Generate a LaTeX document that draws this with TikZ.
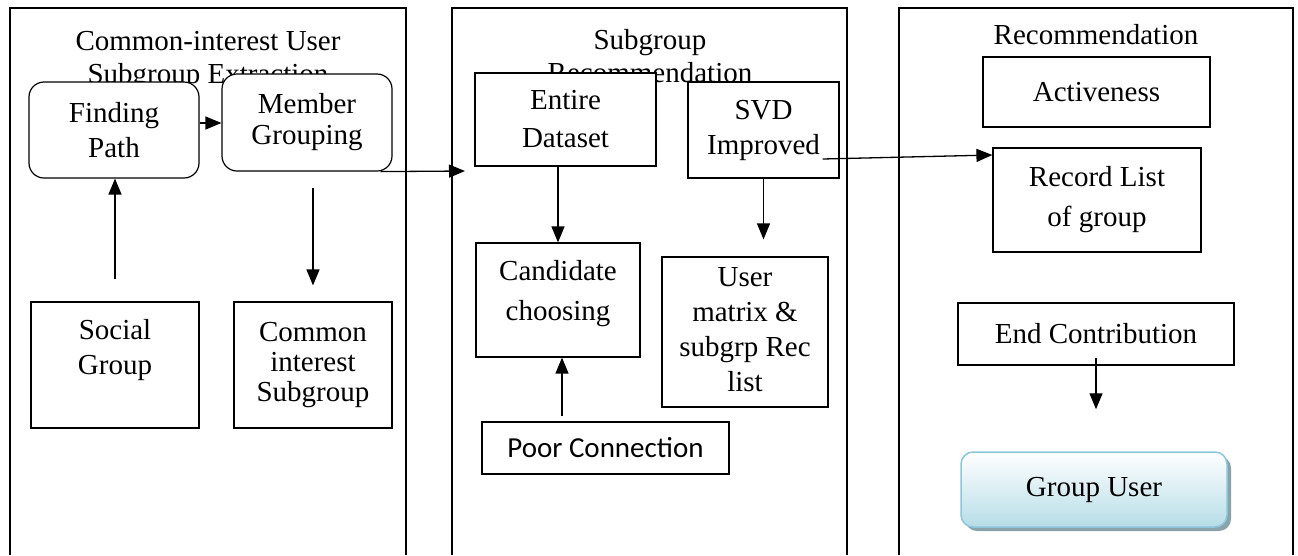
\documentclass[tikz,border=0pt]{standalone}
\usepackage{fontspec}
\setmainfont{Liberation Serif}
\newfontfamily\calfont{Carlito}
\usetikzlibrary{arrows.meta,shadows}

\definecolor{gublue}{RGB}{140,198,218}
\definecolor{gufill}{RGB}{182,221,231}
\definecolor{gushadow}{RGB}{138,162,168}

\tikzset{
  sq/.style={draw,fill=white,line width=1.2pt,align=center,inner sep=0pt,
    font=\fontsize{29}{35}\selectfont},
  rsq/.style={sq,rounded corners=15pt},
  ttl/.style={align=center,inner sep=0pt,font=\fontsize{29}{33}\selectfont},
  arr/.style={-{Triangle[length=16pt,width=13pt]},line width=1.3pt},
  panel/.style={line width=1.3pt}
}

\begin{document}
\begin{tikzpicture}[x=1pt,y=-1pt]
\useasboundingbox (0,0) rectangle (1298,555);

% panels, open at the bottom
\draw[panel] (10,555) |- (406,8) -- (406,555);
\draw[panel] (452,555) |- (847,8) -- (847,555);
\draw[panel] (899,555) |- (1293,8) -- (1293,555);

\node[ttl] (t1) at (208,61) {Common-interest User\\Subgroup Extraction};
\node[ttl] (t2) at (650,56) {Subgroup\\Recommendation};
\node[ttl] (t3) at (1096,35) {Recommendation};

% first panel
\node[rsq,minimum width=170pt,minimum height=96pt] (find) at (114,130) {Finding\\Path};
\node[rsq,minimum width=170pt,minimum height=97pt,font=\fontsize{29}{31}\selectfont] (member) at (307,122.5) {Member\\Grouping};
\node[sq,minimum width=168pt,minimum height=126pt,text depth=37pt] (social) at (115,365) {Social\\Group};
\node[sq,minimum width=158pt,minimum height=126pt,font=\fontsize{29}{30}\selectfont] (cis) at (313,365) {Common\\interest\\Subgroup};

% second panel
\node[sq,minimum width=181pt,minimum height=93pt,font=\fontsize{29}{38}\selectfont] (entire) at (565.5,119.5) {Entire\\Dataset};
\node[sq,minimum width=151pt,minimum height=96pt] (svd) at (763.5,130) {SVD\\Improved};
\node[sq,minimum width=164pt,minimum height=114pt,text depth=20pt,font=\fontsize{29}{40}\selectfont] (cand) at (558,300) {Candidate\\choosing};
\node[sq,minimum width=166pt,minimum height=150pt,text depth=6pt] (umat) at (745,332) {User\\matrix \&\\subgrp Rec\\list};
\node[sq,minimum width=247pt,minimum height=52pt,font=\calfont\fontsize{29}{35}\selectfont] (poor) at (605.5,448) {Poor Connection};

% third panel
\node[sq,minimum width=227pt,minimum height=70pt] (active) at (1096.5,92) {Activeness};
\node[sq,minimum width=208pt,minimum height=104pt,font=\fontsize{29}{40}\selectfont] (record) at (1097,200) {Record List\\of group};
\node[sq,minimum width=276pt,minimum height=62pt] (endc) at (1096,334) {End Contribution};
\node[sq,draw=gublue,line width=1.5pt,rounded corners=12pt,top color=white,bottom color=gufill,
  minimum width=266pt,minimum height=75pt,
  drop shadow={shadow xshift=4pt,shadow yshift=-4pt,fill=gushadow,opacity=1}] (guser) at (1094,489.5) {Group User};

% connectors
\coordinate (fm) at ([yshift=7pt]find.east);
\coordinate (sgin) at (465,171);
\coordinate (ec) at ([yshift=8pt]endc.south);
\draw[arr] (fm) -- (fm -| member.west);
\draw[arr,shorten <=22pt] (social.north) -- (social.north |- find.south);
\draw[arr,shorten <=16pt,shorten >=16pt] (member.south -| cis.north) -- (cis.north);
\draw[arr] ([xshift=-12pt]member.south east) -- (sgin);
\draw[arr] (entire.south -| cand.north) -- (cand.north);
\draw[arr,shorten >=17pt] (svd.south) -- (svd.south |- umat.north);
\draw[arr,shorten <=5pt] ([xshift=4pt]poor.north -| cand.south) -- ([xshift=4pt]cand.south);
\draw[arr] ([xshift=-17pt,yshift=-29pt]svd.east) -- ([yshift=45pt]record.west);
\draw[arr,shorten >=42pt] (ec) -- (ec |- guser.north);
\end{tikzpicture}
\end{document}
